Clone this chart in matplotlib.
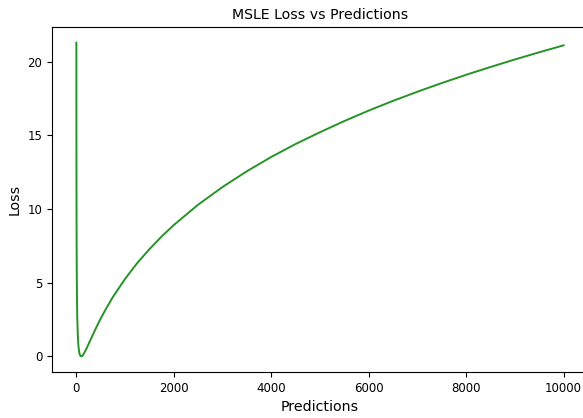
import matplotlib
matplotlib.use('Agg')
import matplotlib.pyplot as plt

# predictions and MSLE loss (true value ~100)
preds = [0, 0.5, 1, 2, 3, 5, 7, 10, 15, 20, 30, 40, 50, 60, 70, 80, 90, 100, 120, 150,
         200, 250, 300, 400, 500, 600, 750, 1000, 1250, 1500, 1750, 2000, 2500, 3000,
         3500, 4000, 4500, 5000, 5500, 6000, 6500, 7000, 7500, 8000, 8500, 9000, 9500,
         10000]
loss = [21.30, 17.72, 15.38, 12.36, 10.43, 7.97, 6.43, 4.92, 3.39, 2.46, 1.39, 0.81,
        0.47, 0.25, 0.12, 0.05, 0.01, 0.0, 0.03, 0.16, 0.47, 0.83, 1.19, 1.90, 2.57,
        3.18, 4.03, 5.26, 6.34, 7.28, 8.14, 8.92, 10.30, 11.50, 12.57, 13.54, 14.42,
        15.22, 15.98, 16.69, 17.35, 17.97, 18.56, 19.12, 19.65, 20.16, 20.65, 21.12]

fig = plt.figure(figsize=(5.83, 4.18), dpi=100)
ax = fig.add_axes([52 / 583, 46 / 418, 536 / 583, 345 / 418])
ax.plot(preds, loss, color='green', alpha=0.85, linewidth=1.4)
ax.set_title('MSLE Loss vs Predictions', fontsize=10.2)
ax.set_xlabel('Predictions', fontsize=10.2)
ax.set_ylabel('Loss', fontsize=10.2)
ax.set_xticks([0, 2000, 4000, 6000, 8000, 10000])
ax.set_yticks([0, 5, 10, 15, 20])
ax.tick_params(labelsize=8.5)

fig.savefig('out.png', dpi=100)
